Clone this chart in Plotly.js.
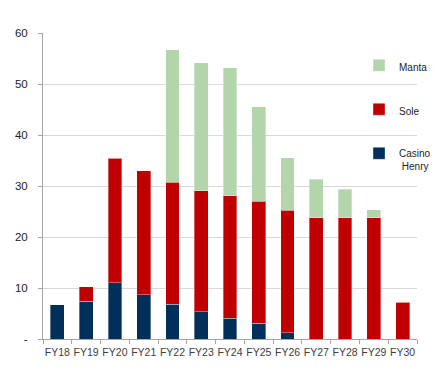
<!DOCTYPE html>
<html><head><meta charset="utf-8">
<script src="https://cdn.plot.ly/plotly-3.0.1.min.js"></script>
<style>html,body{margin:0;padding:0;background:#fff}#chart{width:448px;height:373px}</style>
</head><body><div id="chart"></div>
<script>
var categories = ["FY18","FY19","FY20","FY21","FY22","FY23","FY24","FY25","FY26","FY27","FY28","FY29","FY30"];
var casinoHenry = [6.7, 7.4, 11.0, 8.7, 6.8, 5.3, 4.1, 3.1, 1.2, 0, 0, 0, 0];
var sole = [0, 2.8, 24.4, 24.3, 23.9, 23.8, 24.0, 23.9, 24.0, 23.8, 23.8, 23.8, 7.2];
var manta = [0, 0, 0, 0, 26.0, 25.1, 25.1, 18.5, 10.3, 7.5, 5.6, 1.5, 0];
var yTickVals = [0, 10, 20, 30, 40, 50, 60];
var yTickText = ["-", "10", "20", "30", "40", "50", "60"];

var font = "Liberation Sans, Arial, sans-serif";
function tr(name, y, color, group, rank) {
  return {type: "bar", name: name, x: categories, y: y, legendgroup: group, legendrank: rank,
    marker: {color: color, line: {color: "rgba(255,255,255,0.35)", width: 1}},
    hoverinfo: "x+y+name"};
}
var data = [
  tr("Casino<br>\u00a0Henry", casinoHenry, "#00305a", "c", 3),
  tr("Sole", sole, "#c00000", "s", 2),
  tr("Manta", manta, "#b2d5ac", "m", 1)
];
var layout = {
  width: 448, height: 373,
  margin: {l: 43, r: 16, t: 33, b: 34},
  barmode: "stack", bargap: 0.52,
  paper_bgcolor: "#fff", plot_bgcolor: "#fff",
  font: {family: font, size: 11, color: "#333"},
  xaxis: {type: "category", showline: true, linecolor: "#a6a6a6", linewidth: 1,
    ticks: "outside", tickson: "boundaries", ticklen: 4, tickcolor: "#a6a6a6", tickangle: 0,
    ticklabelstandoff: 3,
    tickfont: {size: 10.5, color: "#404040"}, showgrid: false, fixedrange: true},
  yaxis: {range: [0, 60], tickvals: yTickVals, ticktext: yTickText,
    showline: true, linecolor: "#a6a6a6", linewidth: 1, ticks: "outside", ticklen: 4,
    tickcolor: "#a6a6a6", gridcolor: "#d9d9d9", gridwidth: 1, zeroline: false,
    ticklabelstandoff: 8,
    tickfont: {size: 11.5, color: "#222"}, fixedrange: true},
  legend: {x: 0.845, y: 0.937, xanchor: "left", yanchor: "top", bgcolor: "rgba(0,0,0,0)",
    traceorder: "grouped", tracegroupgap: 25, valign: "top",
    font: {family: font, size: 10, color: "#222"}, itemwidth: 30},
  showlegend: true
};
Plotly.newPlot("chart", data, layout, {displayModeBar: false, staticPlot: true});
</script></body></html>
